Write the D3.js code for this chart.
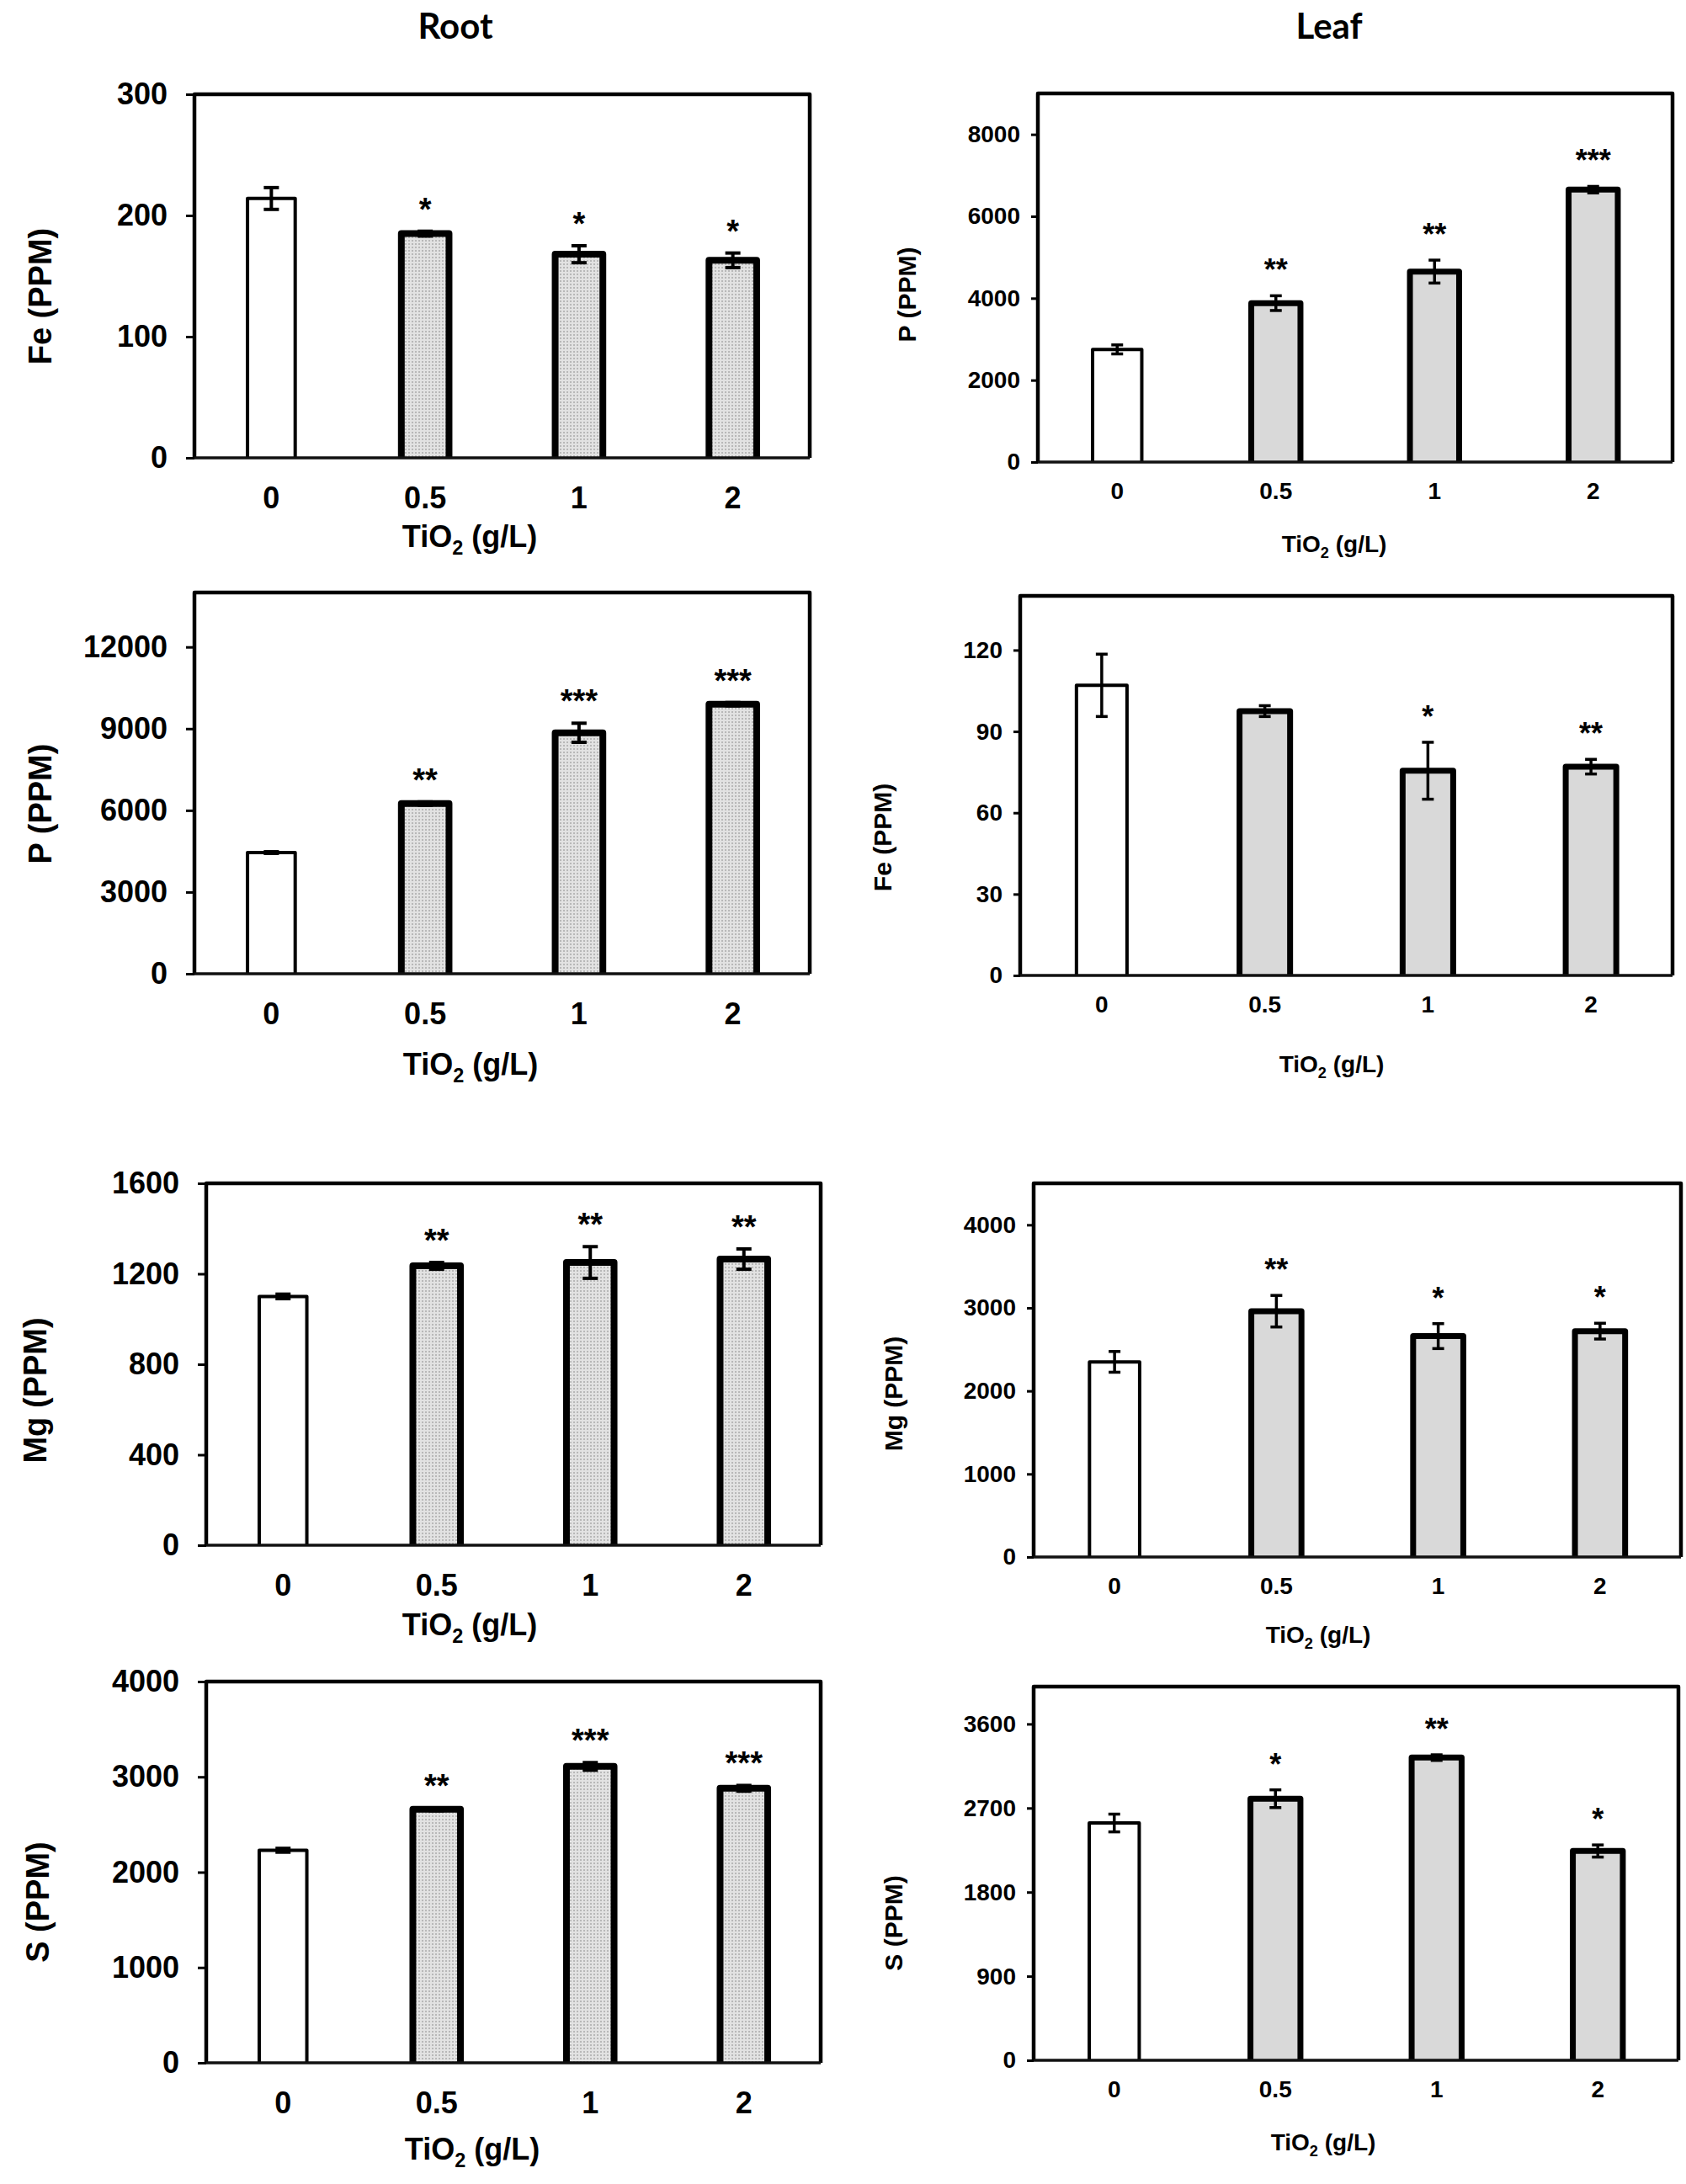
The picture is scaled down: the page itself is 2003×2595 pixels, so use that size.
<!DOCTYPE html>
<html>
<head>
<meta charset="utf-8">
<script src="https://cdn.jsdelivr.net/npm/d3@7"></script>
<style>
  html, body { margin: 0; padding: 0; background: #fff; }
  svg { display: block; }
  text { font-family: "Liberation Sans", Arial, sans-serif; font-weight: bold; fill: #000; }
</style>
</head>
<body>
<div id="chart"></div>
<script>
// doses of TiO2 (g/L)
const doses = ["0", "0.5", "1", "2"];

// Root — means, SE, significance, y ticks
const rootFe = [214, 185, 168, 163];
const rootFeErr = [9, 2, 7, 6];
const rootFeSig = ["", "*", "*", "*"];
const rootFeTicks = [0, 100, 200, 300];

const rootP = [4450, 6250, 8850, 9900];
const rootPErr = [30, 60, 350, 60];
const rootPSig = ["", "**", "***", "***"];
const rootPTicks = [0, 3000, 6000, 9000, 12000];

const rootMg = [1100, 1235, 1250, 1265];
const rootMgErr = [10, 15, 70, 45];
const rootMgSig = ["", "**", "**", "**"];
const rootMgTicks = [0, 400, 800, 1200, 1600];

const rootS = [2230, 2660, 3110, 2880];
const rootSErr = [20, 15, 40, 30];
const rootSSig = ["", "**", "***", "***"];
const rootSTicks = [0, 1000, 2000, 3000, 4000];

// Leaf
const leafP = [2750, 3880, 4650, 6650];
const leafPErr = [110, 180, 280, 80];
const leafPSig = ["", "**", "**", "***"];
const leafPTicks = [0, 2000, 4000, 6000, 8000];

const leafFe = [107, 97.5, 75.5, 77];
const leafFeErr = [11.5, 2, 10.5, 2.7];
const leafFeSig = ["", "", "*", "**"];
const leafFeTicks = [0, 30, 60, 90, 120];

const leafMg = [2350, 2960, 2660, 2720];
const leafMgErr = [125, 190, 150, 95];
const leafMgSig = ["", "**", "*", "*"];
const leafMgTicks = [0, 1000, 2000, 3000, 4000];

const leafS = [2540, 2800, 3240, 2240];
const leafSErr = [95, 95, 30, 65];
const leafSSig = ["", "*", "**", "*"];
const leafSTicks = [0, 900, 1800, 2700, 3600];

// panel frames (page pixels) and label placement
const panels = [
  { side: "root", label: "Fe", vals: rootFe, err: rootFeErr, sig: rootFeSig, ticks: rootFeTicks, max: 300,
    L: 231, R: 962, T: 112, B: 544, ylx: 48, yly: 352, xtx: 558, xty: 637 },
  { side: "root", label: "P", vals: rootP, err: rootPErr, sig: rootPSig, ticks: rootPTicks, max: 14000,
    L: 231, R: 962, T: 704, B: 1157, ylx: 48, yly: 955, xtx: 559, xty: 1264 },
  { side: "root", label: "Mg", vals: rootMg, err: rootMgErr, sig: rootMgSig, ticks: rootMgTicks, max: 1600,
    L: 245, R: 975, T: 1406, B: 1836, ylx: 42, yly: 1652, xtx: 558, xty: 1930 },
  { side: "root", label: "S", vals: rootS, err: rootSErr, sig: rootSSig, ticks: rootSTicks, max: 4000,
    L: 245, R: 975, T: 1998, B: 2451, ylx: 45, yly: 2260, xtx: 561, xty: 2553 },
  { side: "leaf", label: "P", vals: leafP, err: leafPErr, sig: leafPSig, ticks: leafPTicks, max: 9000,
    L: 1233, R: 1987, T: 111, B: 549, ylx: 1077, yly: 350, xtx: 1585, xty: 646 },
  { side: "leaf", label: "Fe", vals: leafFe, err: leafFeErr, sig: leafFeSig, ticks: leafFeTicks, max: 140,
    L: 1212, R: 1987, T: 708, B: 1159, ylx: 1048, yly: 995, xtx: 1582, xty: 1264 },
  { side: "leaf", label: "Mg", vals: leafMg, err: leafMgErr, sig: leafMgSig, ticks: leafMgTicks, max: 4500,
    L: 1228, R: 1997, T: 1406, B: 1850, ylx: 1061, yly: 1656, xtx: 1566, xty: 1942 },
  { side: "leaf", label: "S", vals: leafS, err: leafSErr, sig: leafSSig, ticks: leafSTicks, max: 4000,
    L: 1228, R: 1994, T: 2004, B: 2448, ylx: 1061, yly: 2285, xtx: 1572, xty: 2545 }
];

const W = 2003, H = 2595;
const svg = d3.select("#chart").append("svg")
  .attr("width", W).attr("height", H)
  .attr("viewBox", [0, 0, W, H]);

// dotted grey fill used on the root treatment bars
const defs = svg.append("defs");
const pat = defs.append("pattern")
  .attr("id", "dots").attr("patternUnits", "userSpaceOnUse")
  .attr("width", 4).attr("height", 4);
pat.append("rect").attr("width", 4).attr("height", 4).attr("fill", "#e2e2e2");
pat.append("rect").attr("x", 1).attr("y", 1).attr("width", 2).attr("height", 2).attr("fill", "#b8b8b8");

// column titles
svg.append("text").attr("x", 541).attr("y", 31).attr("dy", "0.35em")
  .attr("text-anchor", "middle").style("font-family", "Lato, 'Open Sans', sans-serif")
  .style("font-size", "42px").text("Root");
svg.append("text").attr("x", 1579).attr("y", 31).attr("dy", "0.35em")
  .attr("text-anchor", "middle").style("font-family", "Lato, 'Open Sans', sans-serif")
  .style("font-size", "42px").text("Leaf");

panels.forEach(p => {
  const isRoot = p.side === "root";
  const fs = isRoot ? 36 : 28;       // tick font
  const g = svg.append("g");

  const x = d3.scaleBand().domain(doses).range([p.L, p.R])
    .paddingInner(0.69).paddingOuter(0.345);
  const y = d3.scaleLinear().domain([0, p.max]).range([p.B, p.T]);

  const data = doses.map((d, i) => ({ dose: d, v: p.vals[i], e: p.err[i], s: p.sig[i] }));

  // bar fill
  g.selectAll("rect.bar").data(data).join("rect")
    .attr("class", "bar")
    .attr("x", d => x(d.dose))
    .attr("y", d => y(d.v))
    .attr("width", x.bandwidth())
    .attr("height", d => y(0) - y(d.v))
    .attr("fill", (d, i) => i === 0 ? "#fff" : (isRoot ? "url(#dots)" : "#d9d9d9"));

  // bar outline: left, top, right (bottom sits on the axis)
  g.selectAll("path.edge").data(data).join("path")
    .attr("class", "edge")
    .attr("d", d => `M${x(d.dose)},${y(0)}V${y(d.v)}H${x(d.dose) + x.bandwidth()}V${y(0)}`)
    .attr("fill", "none")
    .attr("stroke", "#000")
    .attr("stroke-linejoin", "round")
    .attr("stroke-width", (d, i) => i === 0 ? 4 : (isRoot ? 8 : 7));

  // error bars
  const cap = isRoot ? 9 : 7;
  const eb = g.selectAll("g.err").data(data).join("g").attr("class", "err")
    .attr("stroke", "#000").attr("stroke-width", isRoot ? 4 : 3.5);
  eb.append("line")
    .attr("x1", d => x(d.dose) + x.bandwidth() / 2).attr("x2", d => x(d.dose) + x.bandwidth() / 2)
    .attr("y1", d => y(d.v - d.e)).attr("y2", d => y(d.v + d.e));
  eb.append("line")
    .attr("x1", d => x(d.dose) + x.bandwidth() / 2 - cap).attr("x2", d => x(d.dose) + x.bandwidth() / 2 + cap)
    .attr("y1", d => y(d.v + d.e)).attr("y2", d => y(d.v + d.e));
  eb.append("line")
    .attr("x1", d => x(d.dose) + x.bandwidth() / 2 - cap).attr("x2", d => x(d.dose) + x.bandwidth() / 2 + cap)
    .attr("y1", d => y(d.v - d.e)).attr("y2", d => y(d.v - d.e));

  // significance stars
  g.selectAll("text.sig").data(data.filter(d => d.s)).join("text")
    .attr("class", "sig")
    .attr("x", d => x(d.dose) + x.bandwidth() / 2)
    .attr("y", d => y(d.v + d.e) - (isRoot ? 13 : 18))
    .attr("text-anchor", "middle")
    .style("font-size", isRoot ? "38px" : "36px")
    .text(d => d.s);

  // frame: top, left, right heavy; baseline lighter
  g.append("path")
    .attr("d", `M${p.L},${p.B}V${p.T}H${p.R}V${p.B}`)
    .attr("fill", "none").attr("stroke", "#000").attr("stroke-width", 4.5)
    .attr("stroke-linejoin", "round");
  g.append("line")
    .attr("x1", p.L).attr("x2", p.R).attr("y1", p.B).attr("y2", p.B)
    .attr("stroke", "#111").attr("stroke-width", 3.5);

  // y axis
  const ya = g.append("g")
    .attr("transform", `translate(${p.L},0)`)
    .call(d3.axisLeft(y).tickValues(p.ticks).tickFormat(d3.format("d"))
      .tickSize(isRoot ? 10 : 8).tickPadding(isRoot ? 22 : 13));
  ya.select(".domain").remove();
  ya.selectAll(".tick line").attr("stroke", "#000").attr("stroke-width", 3);
  ya.selectAll(".tick text").style("font-size", fs + "px")
    .style("font-family", "'Liberation Sans', Arial, sans-serif").style("font-weight", "bold");

  // x axis labels
  const xa = g.append("g")
    .attr("transform", `translate(0,${p.B})`)
    .call(d3.axisBottom(x).tickSize(0).tickPadding(isRoot ? 34 : 24));
  xa.select(".domain").remove();
  xa.selectAll(".tick text").style("font-size", fs + "px")
    .style("font-family", "'Liberation Sans', Arial, sans-serif").style("font-weight", "bold");

  // x title TiO2 (g/L)
  const xt = g.append("text").attr("x", p.xtx).attr("y", p.xty).attr("dy", "0.35em")
    .attr("text-anchor", "middle").style("font-size", fs + "px");
  xt.append("tspan").text("TiO");
  xt.append("tspan").attr("dy", fs * 0.25).style("font-size", (fs * 0.65) + "px").text("2");
  xt.append("tspan").attr("dy", -fs * 0.25).text(" (g/L)");

  // y title
  g.append("text")
    .attr("transform", `translate(${p.ylx},${p.yly}) rotate(-90)`)
    .attr("dy", "0.35em").attr("text-anchor", "middle")
    .style("font-size", isRoot ? "38px" : "30px")
    .text(`${p.label} (PPM)`);
});
</script>
</body>
</html>
